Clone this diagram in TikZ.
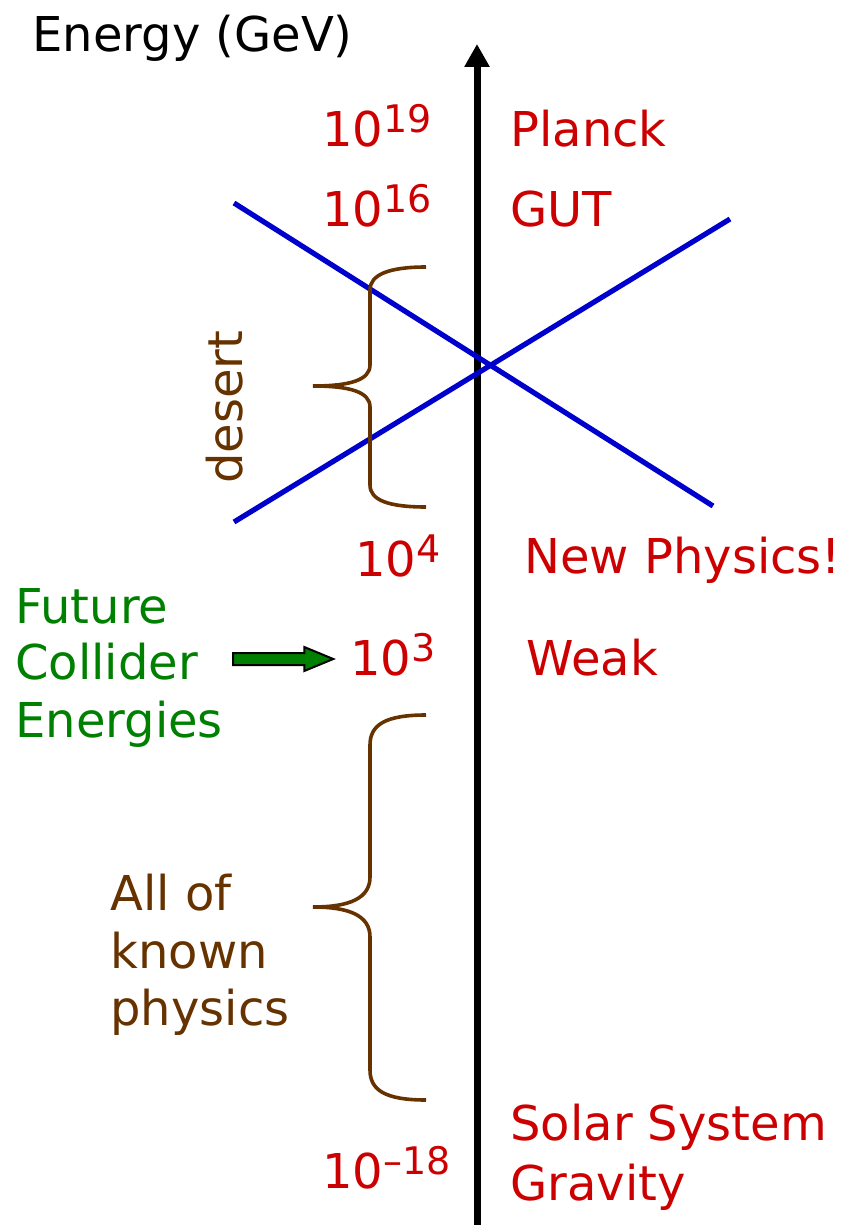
\documentclass[tikz,border=0pt]{standalone}
\usepackage{fontspec}
\setmainfont{DejaVu Sans}
\usetikzlibrary{arrows.meta,shapes.arrows,calc}
\definecolor{scred}{HTML}{CC0000}
\definecolor{scblue}{HTML}{0000CC}
\definecolor{scbrown}{HTML}{663300}
\definecolor{scgreen}{HTML}{008000}
\newcommand{\pw}[1]{\raisebox{7pt}{\fontsize{19}{19}\selectfont #1}}

\begin{document}
\begin{tikzpicture}[
  x=0.5pt, y=-0.5pt,
  every node/.style={inner sep=0, font=\fontsize{24}{28}\selectfont},
  lbl/.style={anchor=base west},
  scale lbl/.style={lbl, text=scred},
  brace line/.style={draw=scbrown, line width=1.8pt},
  coupling/.style={draw=scblue, line width=2.6pt}
]
\useasboundingbox (0,0) rectangle (857,1225);

\coordinate (axbot) at (477,1225);
\coordinate (axtop) at (477,44);
\draw[line width=3.5pt, -{Triangle[width=12pt,length=11.5pt]}] (axbot) -- (axtop);
\node[lbl] (energy) at (32,52) {Energy (GeV)};

\node[scale lbl] (e19) at (322,147) {10\pw{19}};
\node[scale lbl] (e16) at (322,227) {10\pw{16}};
\node[scale lbl] (e4) at (355,576) {10\pw{4}};
\node[scale lbl] (e3) at (350,675) {10\pw{3}};
\node[scale lbl] (em18) at (322,1188) {10\pw{–18}};

\node[scale lbl] (planck) at (510,147) {Planck};
\node[scale lbl] (gut) at (510,227) {GUT};
\node[scale lbl] (newphys) at (524,573) {New Physics!};
\node[scale lbl] (weak) at (526,675) {Weak};
\node[scale lbl] (solar) at (510,1140) {Solar System};
\node[scale lbl] (grav) at (510,1200) {Gravity};

\coordinate (c1a) at (234,203);
\coordinate (c1b) at (713,506);
\coordinate (c2a) at (234,522);
\coordinate (c2b) at (730,219);
\draw[coupling] (c1a) -- (c1b);
\draw[coupling] (c2a) -- (c2b);

\draw[brace line] (426,267) .. controls (388,267) and (370,275) .. (370,290)
  -- (370,365) .. controls (370,380) and (350,386) .. (313,386)
  .. controls (350,386) and (370,392) .. (370,407)
  -- (370,485) .. controls (370,500) and (388,507) .. (426,507);
\node[lbl, rotate=90, text=scbrown] (desert) at (242,484) {desert};

\draw[brace line] (426,715) .. controls (385,715) and (370,725) .. (370,745)
  -- (370,877) .. controls (370,898) and (350,907) .. (313,907)
  .. controls (350,907) and (370,916) .. (370,937)
  -- (370,1070) .. controls (370,1090) and (385,1100) .. (426,1100);
\node[lbl, text=scbrown] (known1) at (110,910) {All of};
\node[lbl, text=scbrown] (known2) at (110,968) {known};
\node[lbl, text=scbrown] (known3) at (110,1025) {physics};

\node[lbl, text=scgreen] (fut1) at (15,623) {Future};
\node[lbl, text=scgreen] (fut2) at (15,679) {Collider};
\node[lbl, text=scgreen] (fut3) at (15,737) {Energies};

\coordinate (arra) at (226,659);
\coordinate (arrb) at (326,659);
\node[single arrow, draw=black, fill=scgreen, line width=1pt,
  inner sep=2.5pt, minimum height=50pt, minimum width=11pt,
  single arrow head extend=3pt, single arrow tip angle=45]
  (collarrow) at ($(arra)!0.5!(arrb)$) {};
\end{tikzpicture}
\end{document}
